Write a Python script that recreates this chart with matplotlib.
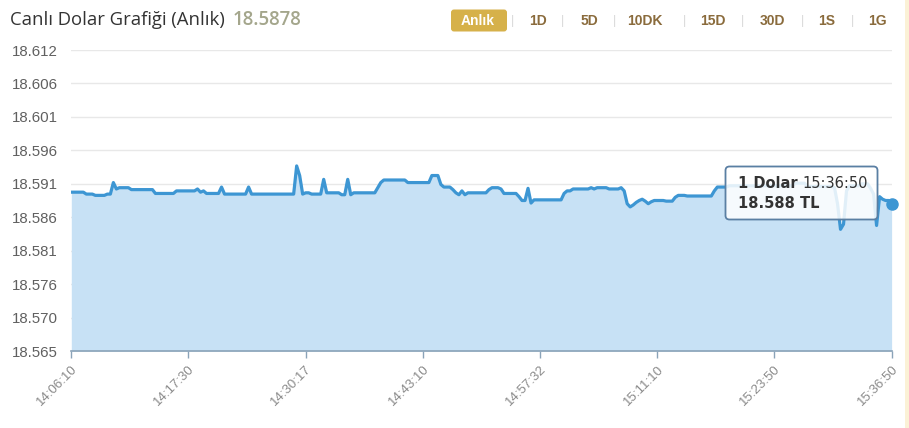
import numpy as np
import matplotlib
matplotlib.use("Agg")
import matplotlib.pyplot as plt
from matplotlib.patches import FancyBboxPatch, Rectangle

# USD/TRY intraday quotes (value, number of consecutive points)
run_values = [18.5898, 18.5895, 18.5893, 18.5895, 18.5913, 18.5903, 18.5905, 18.5902,
              18.5896, 18.5900, 18.5903, 18.5898, 18.5900, 18.5896, 18.5906, 18.5895,
              18.5906, 18.5895, 18.5939, 18.5924, 18.5895, 18.5897, 18.5895, 18.5918,
              18.5897, 18.5894, 18.5918, 18.5894, 18.5897, 18.5905, 18.5913, 18.5917,
              18.5913, 18.5924, 18.5910, 18.5906, 18.5902, 18.5897, 18.5894, 18.5900,
              18.5894, 18.5897, 18.5902, 18.5905, 18.5903, 18.5896, 18.5891, 18.5885,
              18.5904, 18.5881, 18.5886, 18.5896, 18.5900, 18.5903, 18.5905, 18.5903,
              18.5905, 18.5903, 18.5905, 18.5900, 18.5880, 18.5875, 18.5878, 18.5882,
              18.5885, 18.5887, 18.5884, 18.5880, 18.5883, 18.5885, 18.5884, 18.5890,
              18.5893, 18.5892, 18.5900, 18.5906, 18.5908, 18.5912, 18.5907, 18.5905,
              18.5880, 18.5840, 18.5848, 18.5900, 18.5908, 18.5911, 18.5904, 18.5895,
              18.5846, 18.5891, 18.5887, 18.5885, 18.5880]
run_counts = [5, 3, 4, 2, 1, 1, 4, 8,
              7, 7, 1, 1, 1, 5, 1, 8,
              1, 15, 1, 1, 1, 2, 4, 1,
              5, 2, 1, 1, 8, 1, 1, 8,
              8, 3, 1, 3, 1, 1, 1, 1,
              1, 7, 1, 3, 1, 5, 1, 2,
              1, 1, 10, 1, 2, 6, 1, 1,
              4, 4, 1, 1, 1, 1, 1, 1,
              1, 1, 1, 1, 1, 4, 3, 1,
              3, 9, 1, 4, 22, 4, 9, 1,
              1, 1, 1, 1, 4, 3, 1, 1,
              1, 1, 1, 2, 1]
prices = np.repeat(run_values, run_counts)

x_labels = ["14:06:10", "14:17:30", "14:30:17", "14:43:10", "14:57:32",
            "15:11:10", "15:23:50", "15:36:50"]
y_labels = ["18.565", "18.570", "18.576", "18.581", "18.586",
            "18.591", "18.596", "18.601", "18.606", "18.612"]
buttons = ["Anlık", "1D", "5D", "10DK", "15D", "30D", "1S", "1G"]

title = "Canlı Dolar Grafiği (Anlık)"
last_quote = "18.5878"

W, H = 909, 428
fig = plt.figure(figsize=(W / 100, H / 100), dpi=100)
fig.patch.set_facecolor("white")

# main plot area in pixels
left, right, top, bottom = 71.3, 891.6, 50, 351
ax = fig.add_axes([left / W, 1 - bottom / H, (right - left) / W, (bottom - top) / H])

idx = np.arange(len(prices))
y_min, y_max = 18.565, 18.612

ax.fill_between(idx, prices, y_min, color="#c7e1f5", lw=0, zorder=1)
ax.plot(idx, prices, color="#3d96d3", lw=2.3, zorder=3, solid_joinstyle="round")
ax.plot(idx[-1], prices[-1], "o", color="#3d96d3", ms=8, zorder=4, clip_on=False)

ax.set_xlim(0, len(prices) - 1)
ax.set_ylim(y_min, y_max)

yt = np.linspace(y_min, y_max, len(y_labels))
ax.set_yticks(yt)
ax.set_yticklabels(y_labels)
ax.yaxis.grid(True, color="#e8e8e8", lw=1)
ax.set_axisbelow(True)

xt = np.linspace(0, len(prices) - 1, len(x_labels))
ax.set_xticks(xt)
ax.set_xticklabels(x_labels, rotation=45, ha="right", va="top", rotation_mode="anchor")

for s in ["top", "right", "left"]:
    ax.spines[s].set_visible(False)
ax.spines["bottom"].set_color("#8aa3b8")
ax.spines["bottom"].set_linewidth(1.2)
ax.tick_params(axis="y", length=0, pad=9.5, labelsize=10.8, labelcolor="#606060")
ax.tick_params(axis="x", length=5, color="#8aa3b8", width=1, pad=4,
               labelsize=9.5, labelcolor="#8a8a8a")
for lab in ax.get_yticklabels() + ax.get_xticklabels():
    lab.set_fontfamily("Liberation Sans")

# overlay in pixel coordinates for header, buttons and tooltip
ov = fig.add_axes([0, 0, 1, 1], facecolor="none")
ov.set_xlim(0, W)
ov.set_ylim(H, 0)
ov.axis("off")

ov.add_patch(Rectangle((905, 0), 4, H, color="#fbf1d6", lw=0))

ov.text(10, 20, title, fontsize=13.3, color="#333333", va="center",
        family="Open Sans")
ov.text(233, 20, last_quote, fontsize=13.5, color="#a4a68c", va="center",
        family="Open Sans", fontweight="semibold")

btn_x = [478, 538, 589, 645, 713, 772, 827, 877]
sep_x = [513, 563, 614, 684, 743, 802, 852]
ov.add_patch(FancyBboxPatch((451, 9.5), 56, 22, boxstyle="round,pad=0,rounding_size=3",
                            fc="#d6b14a", ec="none"))
for i, b in enumerate(buttons):
    ov.text(btn_x[i], 20.5, b, fontsize=10, fontweight="bold", ha="center", va="center",
            color="white" if i == 0 else "#8a6b3c", family="Liberation Sans")
for sx in sep_x:
    ov.text(sx, 20.5, "|", fontsize=9, ha="center", va="center", color="#d8d8d8",
            family="Liberation Sans")

# tooltip
ov.add_patch(FancyBboxPatch((725.5, 166.5), 152, 53, boxstyle="round,pad=0,rounding_size=4",
                            fc="white", alpha=0.85, ec="none", zorder=5))
ov.add_patch(FancyBboxPatch((725.5, 166.5), 152, 53, boxstyle="round,pad=0,rounding_size=4",
                            fc="none", ec="#5a7fa3", lw=1.3, zorder=6))
ov.text(738, 183, "1 Dolar", fontsize=10.5, fontweight="bold", color="#333333",
        va="center", family="DejaVu Sans", zorder=7)
ov.text(802, 183, "15:36:50", fontsize=10.5, color="#333333", va="center",
        family="DejaVu Sans", zorder=7)
ov.text(738, 203, "18.588 TL", fontsize=10.5, fontweight="bold", color="#333333",
        va="center", family="DejaVu Sans", zorder=7)

fig.savefig("out.png", dpi=100)
